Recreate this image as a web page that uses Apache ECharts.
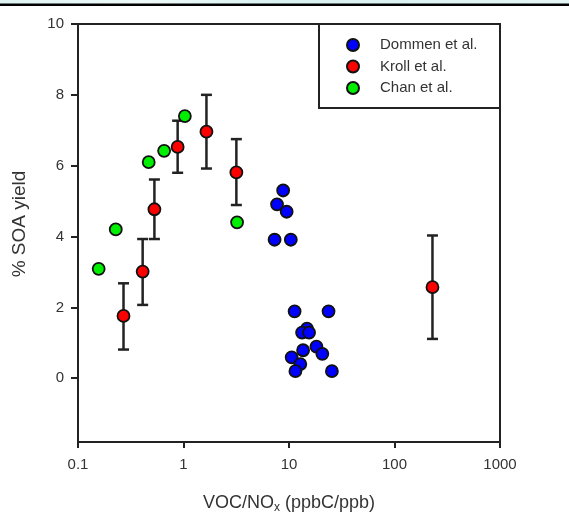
<!DOCTYPE html>
<html>
<head>
<meta charset="utf-8">
<script src="https://cdn.jsdelivr.net/npm/echarts@6/dist/echarts.min.js"></script>
<style>
html,body{margin:0;padding:0;background:#fff;}
#c{width:569px;height:519px;}
</style>
</head>
<body>
<div id="c"></div>
<script>
// ---- data ----
var seriesNames = ['Dommen et al.', 'Kroll et al.', 'Chan et al.'];
var xTickLabels = [0.1, 1, 10, 100, 1000];
var yTickLabels = [0, 2, 4, 6, 8, 10];

var dommenX = [8.8, 7.7, 9.5, 7.3, 10.4, 11.3, 23.7, 14.8, 13.3, 15.5, 18.2, 13.6, 20.7, 10.6, 12.8, 11.5, 25.5];
var dommenY = [5.30, 4.91, 4.70, 3.91, 3.91, 1.89, 1.89, 1.40, 1.29, 1.29, 0.89, 0.79, 0.69, 0.59, 0.40, 0.20, 0.20];

var krollX = [0.27, 0.41, 0.53, 0.88, 1.65, 3.17, 229];
var krollY = [1.76, 3.01, 4.77, 6.53, 6.96, 5.81, 2.57];
var krollLow = [0.81, 2.07, 3.93, 5.80, 5.92, 4.89, 1.11];
var krollHigh = [2.68, 3.93, 5.61, 7.27, 8.00, 6.75, 4.03];

var chanX = [0.157, 0.228, 0.468, 0.655, 1.03, 3.22];
var chanY = [3.09, 4.20, 6.10, 6.42, 7.40, 4.40];

function zip(a, b) { return a.map(function (v, i) { return [v, b[i]]; }); }
var errData = krollX.map(function (x, i) { return [x, krollLow[i], krollHigh[i]]; });

var chart = echarts.init(document.getElementById('c'), null, {renderer: 'canvas'});
var axisCol = '#222';
var txtCol = '#333';
var font = "'Liberation Sans', Arial, sans-serif";

function markerStyle(c) {
  return {color: c, borderColor: '#111', borderWidth: 1.8, opacity: 1};
}

chart.setOption({
  animation: false,
  backgroundColor: '#fff',
  textStyle: {fontFamily: font},
  grid: {left: 78, right: 69, top: 24, bottom: 72, show: true, borderColor: axisCol, borderWidth: 2, backgroundColor: 'transparent'},
  graphic: [
    {type: 'rect', shape: {x: 0, y: 0, width: 569, height: 4}, silent: true,
      style: {fill: new echarts.graphic.LinearGradient(0, 0, 1, 0, [
        {offset: 0, color: '#dff3f3'}, {offset: 0.25, color: '#eef9f9'}, {offset: 0.5, color: '#d8f1f1'}, {offset: 1, color: '#e4f5f5'}])}},
    {type: 'rect', shape: {x: 0, y: 3.5, width: 569, height: 2.5}, silent: true, style: {fill: '#000'}},
    {type: 'rect', shape: {x: 319, y: 24, width: 181, height: 84}, silent: true, z: 5,
      style: {fill: 'transparent', stroke: axisCol, lineWidth: 2}},
    {type: 'text', x: 20, y: 224, rotation: Math.PI / 2, silent: true,
      style: {text: '% SOA yield', fill: txtCol, font: "19px 'Liberation Sans', Arial, sans-serif", align: 'center', verticalAlign: 'middle'}}
  ],
  legend: {
    data: seriesNames,
    orient: 'vertical',
    left: 346,
    top: 37.5,
    itemWidth: 12,
    itemHeight: 12,
    itemGap: 6.5,
    padding: 0,
    textStyle: {fontSize: 15, color: txtCol, fontFamily: font, lineHeight: 15, padding: [0, 0, 0, 16]}
  },
  xAxis: {
    type: 'log',
    logBase: 10,
    min: 0.1,
    max: 1000,
    name: '{a|VOC/NO}{s|x}{a| (ppbC/ppb)}',
    nameLocation: 'middle',
    nameGap: 50,
    nameTextStyle: {
      rich: {
        a: {fontSize: 18, color: txtCol, fontFamily: font},
        s: {fontSize: 12, color: txtCol, fontFamily: font, verticalAlign: 'bottom', padding: [10, 0, 0, 0]}
      }
    },
    axisLine: {show: true, onZero: false, lineStyle: {color: axisCol, width: 2}},
    axisTick: {show: true, inside: false, length: 6, lineStyle: {color: axisCol, width: 2}},
    minorTick: {show: false},
    splitLine: {show: false},
    axisLabel: {
      fontSize: 15, color: txtCol, fontFamily: font, margin: 15,
      formatter: function (v) {
        for (var i = 0; i < xTickLabels.length; i++) {
          if (Math.abs(Math.log10(v) - Math.log10(xTickLabels[i])) < 1e-6) return String(xTickLabels[i]);
        }
        return '';
      }
    }
  },
  yAxis: {
    type: 'value',
    min: -1.8,
    max: 10,
    axisLine: {show: true, onZero: false, lineStyle: {color: axisCol, width: 2}},
    axisTick: {show: true, inside: false, length: 7, customValues: yTickLabels, lineStyle: {color: axisCol, width: 2}},
    splitLine: {show: false},
    axisLabel: {fontSize: 15, color: txtCol, fontFamily: font, margin: 14, customValues: yTickLabels}
  },
  series: [
    {
      name: 'Kroll err',
      type: 'custom',
      z: 1,
      data: errData,
      encode: {x: 0, y: [1, 2]},
      renderItem: function (params, api) {
        var lo = api.coord([api.value(0), api.value(1)]);
        var hi = api.coord([api.value(0), api.value(2)]);
        var hw = 5.5;
        var st = {stroke: '#222', lineWidth: 2.5};
        return {
          type: 'group',
          children: [
            {type: 'line', shape: {x1: lo[0], y1: lo[1], x2: hi[0], y2: hi[1]}, style: st},
            {type: 'line', shape: {x1: lo[0] - hw, y1: lo[1], x2: lo[0] + hw, y2: lo[1]}, style: st},
            {type: 'line', shape: {x1: hi[0] - hw, y1: hi[1], x2: hi[0] + hw, y2: hi[1]}, style: st}
          ]
        };
      }
    },
    {name: seriesNames[0], type: 'scatter', z: 3, symbol: 'circle', symbolSize: 12, itemStyle: markerStyle('#0000ff'), data: zip(dommenX, dommenY)},
    {name: seriesNames[1], type: 'scatter', z: 3, symbol: 'circle', symbolSize: 12, itemStyle: markerStyle('#ff0000'), data: zip(krollX, krollY)},
    {name: seriesNames[2], type: 'scatter', z: 3, symbol: 'circle', symbolSize: 12, itemStyle: markerStyle('#00ee00'), data: zip(chanX, chanY)}
  ]
});
</script>
</body>
</html>
